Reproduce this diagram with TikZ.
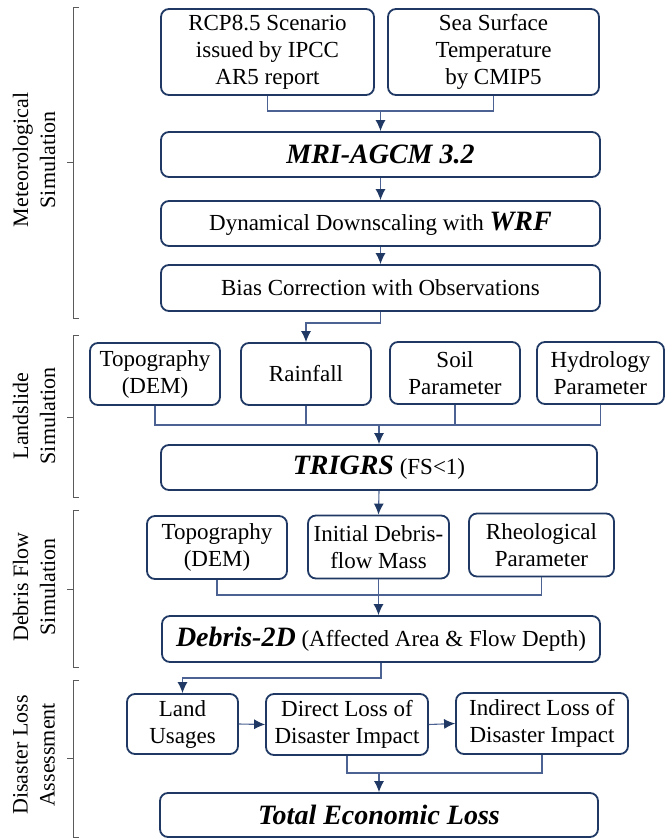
\documentclass[tikz,border=0pt]{standalone}
\usepackage{fontspec}
\setmainfont{Liberation Serif}
\usepackage{tikz}
\usetikzlibrary{arrows.meta}
\usetikzlibrary{positioning}
\definecolor{navy}{RGB}{31,56,100}
\definecolor{linkblue}{RGB}{76,98,146}
\definecolor{brackgray}{RGB}{90,90,90}

\newcommand{\bfit}[1]{{\fontsize{28}{32}\selectfont\bfseries\itshape #1}}

\begin{document}
\begin{tikzpicture}[x=1pt, y=-1pt,
>={Latex[length=11pt,width=10pt]},
font=\rmfamily\fontsize{23}{27}\selectfont]
	\tikzset{box/.style={draw=navy, line width=1.8pt, rounded corners=8pt, align=center, inner sep=0pt}}
	\tikzset{link/.style={draw=linkblue, line width=1.1pt}}
	\tikzset{arr/.style={link, ->, >={Latex[length=11pt,width=10pt,color=navy]}}}
	\tikzset{brack/.style={draw=brackgray, line width=0.8pt}}
	\tikzset{side/.style={rotate=90, align=center, font=\rmfamily\fontsize{22}{27}\selectfont}}

\useasboundingbox (0,0) rectangle (666,840);

% Meteorological Simulation
\node[box, minimum width=213pt, minimum height=86pt] (rcp) at (267.5,52) {RCP8.5 Scenario\\issued by IPCC\\AR5 report};
\node[box, minimum width=211pt, minimum height=86pt] (sst) at (493.5,52) {Sea Surface\\Temperature\\by CMIP5};
\node[box, minimum width=439pt, minimum height=45pt] (mri) at (380.5,154.5) {\bfit{MRI-AGCM 3.2}};
\node[box, minimum width=439pt, minimum height=45pt] (dyn) at (380.5,223.5) {Dynamical Downscaling with \bfit{WRF}};
\node[box, minimum width=439pt, minimum height=46pt] (bias) at (380.5,288) {Bias Correction with Observations};

% Landslide Simulation
\node[box, minimum width=130pt, minimum height=62pt] (topoA) at (155,374) {Topography\\(DEM)};
\node[box, minimum width=130pt, minimum height=62pt] (rain) at (306,374) {Rainfall};
\node[box, minimum width=130pt, minimum height=62pt] (soil) at (455,373) {Soil\\Parameter};
\node[box, minimum width=127pt, minimum height=62pt] (hydro) at (600.5,373) {Hydrology\\Parameter};
\node[box, minimum width=436pt, minimum height=45pt] (trigrs) at (379,467.5) {\bfit{TRIGRS} (FS<1)};

% Debris Flow Simulation
\node[box, minimum width=140pt, minimum height=63pt] (topoB) at (217,547.5) {Topography\\(DEM)};
\node[box, minimum width=141pt, minimum height=63pt] (init) at (378.5,547) {Initial Debris-\\flow Mass};
\node[box, minimum width=145pt, minimum height=63pt] (rheo) at (541.5,545) {Rheological\\Parameter};
\node[box, minimum width=438pt, minimum height=46pt] (debris) at (381,639) {\bfit{Debris-2D} (Affected Area \& Flow Depth)};

% Disaster Loss Assessment
\node[box, minimum width=111pt, minimum height=60pt] (land) at (182.5,724) {Land\\Usages};
\node[box, minimum width=162pt, minimum height=61pt] (direct) at (347,724.5) {Direct Loss of\\Disaster Impact};
\node[box, minimum width=172pt, minimum height=61pt] (indirect) at (542,723.5) {Indirect Loss of\\Disaster Impact};
\node[box, minimum width=438pt, minimum height=44pt] (total) at (379,815) {\bfit{Total Economic Loss}};

% Verbindungen
\coordinate (j1) at (380.5,111);
\draw[link] (rcp.south) |- (j1) -| (sst.south);
\draw[arr] (j1) -- (mri.north);
\draw[arr] (mri.south) -- (dyn.north);
\draw[arr] (dyn.south) -- (bias.north);
\coordinate (j2) at (380.5,323);
\draw[arr] (bias.south) -- (j2) -| (rain.north);

\coordinate (j3) at (379,425);
\draw[link] (topoA.south) |- (j3) -| (hydro.south);
\draw[link] (rain.south) -- (rain.south |- j3);
\draw[link] (soil.south) -- (soil.south |- j3);
\draw[arr] (j3) -- (trigrs.north);
\draw[arr] (trigrs.south) -- (init.north);

\coordinate (j4) at (378.5,595);
\draw[link] (topoB.south) |- (j4) -| (rheo.south);
\draw[arr] (init.south) -- (init.south |- debris.north);

\coordinate (j5) at (381,678);
\draw[arr] (debris.south) -- (j5) -| (land.north);
\draw[arr] (land.east) -- (direct.west);
\draw[arr] (direct.east) -- (indirect.west);
\coordinate (j6) at (379,773);
\draw[link] (direct.south) |- (j6) -| (indirect.south);
\draw[arr] (j6) -- (total.north);

% Klammern
\draw[brack] (79,7) -- (73,7) -- (73,318) -- (79,318);
\draw[brack] (73,162) -- (67,162);
\node[side] (met) at (34,160) {Meteorological\\Simulation};

\draw[brack] (79,335) -- (73,335) -- (73,497) -- (79,497);
\draw[brack] (73,417) -- (67,417);
\node[side] (lan) at (34,416) {Landslide\\Simulation};

\draw[brack] (79,510) -- (73,510) -- (73,667) -- (79,667);
\draw[brack] (73,589) -- (67,589);
\node[side] (deb) at (34,587) {Debris Flow\\Simulation};

\draw[brack] (79,680) -- (73,680) -- (73,837) -- (79,837);
\draw[brack] (73,758) -- (67,758);
\node[side] (dis) at (34,755) {Disaster Loss\\Assessment};
\end{tikzpicture}
\end{document}
